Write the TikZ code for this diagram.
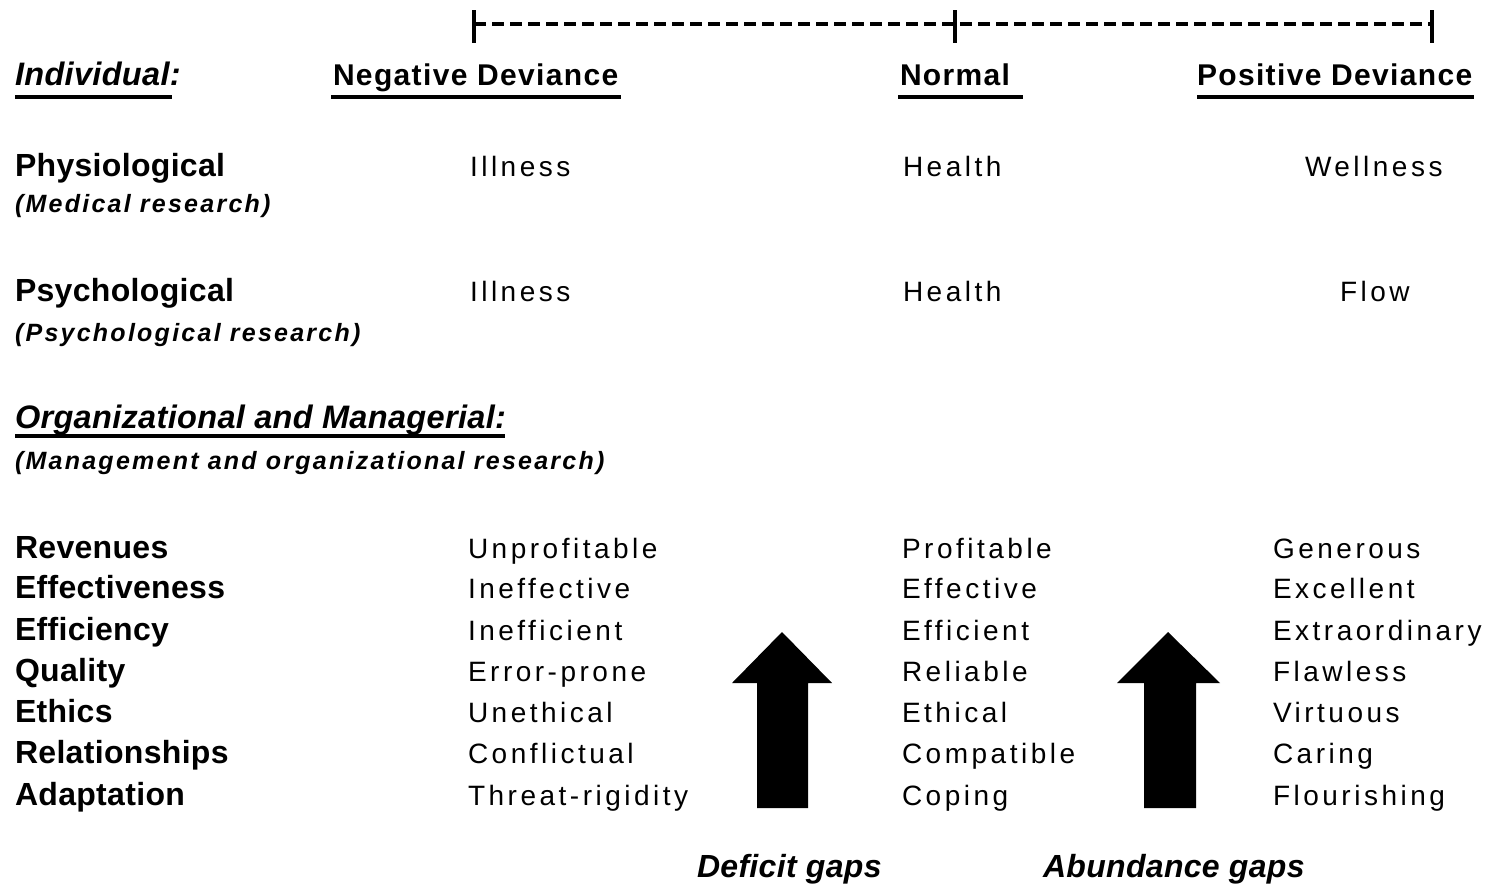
\documentclass[tikz,border=0pt]{standalone}
\usepackage{fontspec}
\setmainfont{Liberation Sans}
\newfontfamily\hdfont[LetterSpace=4.5]{Liberation Sans}
\newfontfamily\labfont[LetterSpace=1]{Liberation Sans}
\newfontfamily\valfont[LetterSpace=12.5]{Liberation Sans}
\newfontfamily\subfont[LetterSpace=9]{Liberation Sans}
\begin{document}
\begin{tikzpicture}[x=1pt,y=-1pt,
  txt/.style={anchor=base west,inner sep=0pt,outer sep=0pt},
  colhead/.style={txt,font=\hdfont\bfseries\fontsize{30}{36}\selectfont},
  section/.style={txt,font=\labfont\bfseries\itshape\fontsize{32.5}{38}\selectfont},
  rowlabel/.style={txt,font=\labfont\bfseries\fontsize{32}{38}\selectfont},
  source/.style={txt,font=\subfont\bfseries\itshape\fontsize{25}{30}\selectfont},
  value/.style={txt,font=\valfont\fontsize{28}{34}\selectfont},
  gaplabel/.style={txt,font=\labfont\bfseries\itshape\fontsize{32}{38}\selectfont},
  uline/.style={line width=4pt},
  scalebar/.style={line width=4pt,dash pattern=on 12pt off 6pt},
  tick/.style={line width=4pt},
  gaparrow/.style={fill=black}]
\path[use as bounding box,fill=white] (0,0) rectangle (1493,884);

% scale from negative deviance through normal to positive deviance
\coordinate (sL) at (474,24);
\coordinate (sM) at (955,24);
\coordinate (sR) at (1432,24);
\draw[scalebar] (sL) -- (sR);
\foreach \t in {sL,sM,sR} \draw[tick] (\t) ++(0,-14) -- ++(0,33);

% column headings
\node[section] (indiv) at (15,85) {Individual:};
\node[colhead] (neg) at (333,85) {Negative Deviance};
\node[colhead] (norm) at (900,85) {Normal};
\node[colhead] (pos) at (1197,85) {Positive Deviance};
\draw[uline] (15,97) -- (172,97);
\draw[uline] (331,97) -- (621,97);
\draw[uline] (898,97) -- (1023,97);
\draw[uline] (1197,97) -- (1474,97);

% individual level
\node[rowlabel] (phys) at (15,176) {Physiological};
\node[source] (physsrc) at (15,212) {(Medical research)};
\node[value] (physneg) at (470,176) {Illness};
\node[value] (physnorm) at (903,176) {Health};
\node[value] (physpos) at (1305,176) {Wellness};

\node[rowlabel] (psych) at (15,301) {Psychological};
\node[source] (psychsrc) at (15,341) {(Psychological research)};
\node[value] (psychneg) at (470,301) {Illness};
\node[value] (psychnorm) at (903,301) {Health};
\node[value] (psychpos) at (1340,301) {Flow};

% organizational level
\node[section] (org) at (15,428) {Organizational and Managerial:};
\draw[uline] (15,436) -- (505,436);
\node[source] (orgsrc) at (15,469) {(Management and organizational research)};

\foreach \y/\lab/\n/\m/\p [count=\i] in {
  558/Revenues/Unprofitable/Profitable/Generous,
  598/Effectiveness/Ineffective/Effective/Excellent,
  640/Efficiency/Inefficient/Efficient/Extraordinary,
  681/Quality/Error-prone/Reliable/Flawless,
  722/Ethics/Unethical/Ethical/Virtuous,
  763/Relationships/Conflictual/Compatible/Caring,
  805/Adaptation/Threat-rigidity/Coping/Flourishing} {
  \node[rowlabel] (lab\i) at (15,\y) {\lab};
  \node[value] (neg\i) at (468,\y) {\n};
  \node[value] (norm\i) at (902,\y) {\m};
  \node[value] (pos\i) at (1273,\y) {\p};
}

% gap arrows
\fill[gaparrow] (757,808) -- (757,683) -- (732,683) -- (782,632) -- (832,683)
  -- (808,683) -- (808,808) -- cycle;
\fill[gaparrow] (1144,808) -- (1144,683) -- (1117,683) -- (1168,632) -- (1220,683)
  -- (1196,683) -- (1196,808) -- cycle;
\node[gaplabel] (deficit) at (697,877) {Deficit gaps};
\node[gaplabel] (abund) at (1043,877) {Abundance gaps};
\end{tikzpicture}
\end{document}
